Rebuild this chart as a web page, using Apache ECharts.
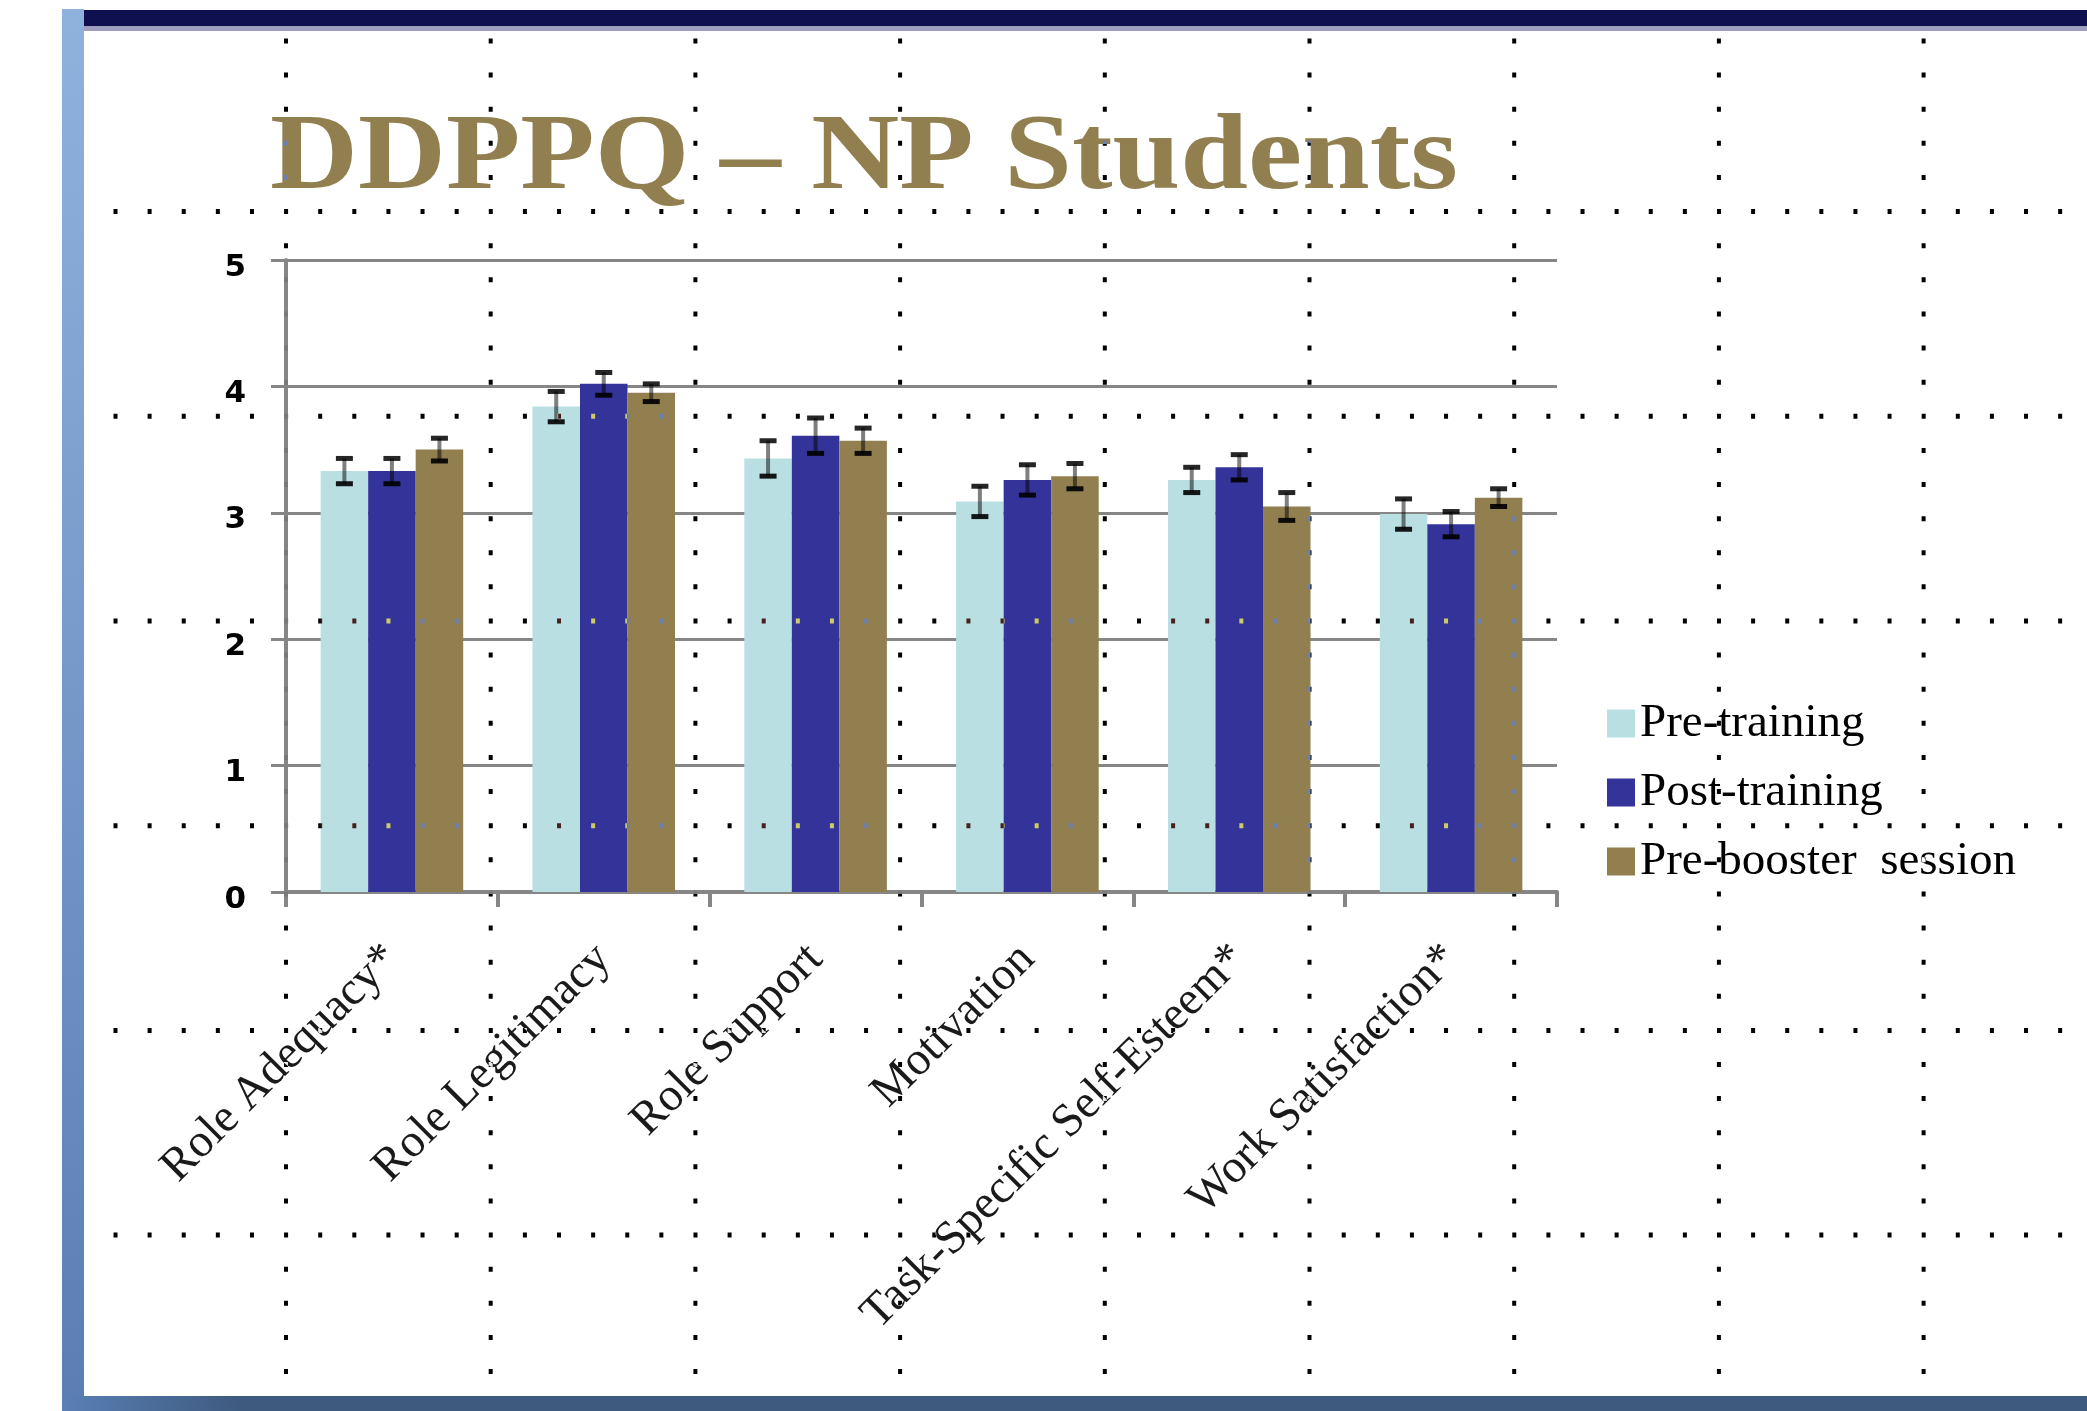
<!DOCTYPE html>
<html>
<head>
<meta charset="utf-8">
<script src="https://cdn.jsdelivr.net/npm/echarts@6/dist/echarts.min.js"></script>
<style>
html,body{margin:0;padding:0;background:#fff;}
#c{width:2087px;height:1411px;}
</style>
</head>
<body>
<div id="c"></div>
<script>
// ---- data ----
const titleText = 'DDPPQ – NP Students';
const categories = ['Role Adequacy*', 'Role Legitimacy', 'Role Support', 'Motivation', 'Task-Specific Self-Esteem*', 'Work Satisfaction*'];
const seriesNames = ['Pre-training', 'Post-training', 'Pre-booster  session'];
const preTraining = [3.33, 3.84, 3.43, 3.09, 3.26, 2.99];
const preTrainingErr = [0.10, 0.12, 0.14, 0.12, 0.10, 0.12];
const postTraining = [3.33, 4.02, 3.61, 3.26, 3.36, 2.91];
const postTrainingErr = [0.10, 0.09, 0.14, 0.12, 0.10, 0.10];
const preBooster = [3.50, 3.95, 3.57, 3.29, 3.05, 3.12];
const preBoosterErr = [0.09, 0.07, 0.10, 0.10, 0.11, 0.07];
const yMin = 0, yMax = 5, yStep = 1;

// ---- styling ----
const colors = ['#B9DFE3', '#333399', '#927F50'];
const catGap = 0.327;
const values = [preTraining, postTraining, preBooster];
const errors = [preTrainingErr, postTrainingErr, preBoosterErr];

const chart = echarts.init(document.getElementById('c'), null, {renderer: 'canvas'});

// decoration: slide frame + dotted guide grid
const graphic = [];
graphic.push({type: 'rect', z: 1, shape: {x: 62, y: 9, width: 22, height: 1402},
  style: {fill: {type: 'linear', x: 0, y: 0, x2: 0, y2: 1, colorStops: [{offset: 0, color: '#8FB2DD'}, {offset: 1, color: '#5A7EB4'}]}}});
graphic.push({type: 'rect', z: 1, shape: {x: 84, y: 10, width: 2003, height: 16}, style: {fill: '#0F104F'}});
graphic.push({type: 'rect', z: 1, shape: {x: 84, y: 26, width: 2003, height: 5}, style: {fill: '#A09EBE'}});
graphic.push({type: 'rect', z: 1, shape: {x: 62, y: 1396, width: 2025, height: 15},
  style: {fill: {type: 'linear', x: 62, y: 0, x2: 240, y2: 0, global: true, colorStops: [{offset: 0, color: '#5A80B5'}, {offset: 1, color: '#3E5A7F'}]}}});

const step = 204.7 / 6;
for (let k = 0; k < 9; k++) {
  const x = 286 + k * 204.7;
  graphic.push({type: 'line', z: 100, silent: true,
    shape: {x1: x, y1: 38.5, x2: x, y2: 1375},
    style: {stroke: '#fff', lineWidth: 4, blend: 'difference',
      lineDash: [5, step - 5, 5, step - 5, 5, step - 5, 5, step - 5, 5, 2 * step - 5]}});
}
for (let m = 0; m < 6; m++) {
  const y = 211.6 + m * 204.7;
  graphic.push({type: 'line', z: 100, silent: true,
    shape: {x1: 113.5, y1: y, x2: 2087, y2: y},
    style: {stroke: '#fff', lineWidth: 5, blend: 'difference', lineDash: [4, step - 4]}});
}
graphic.push({type: 'text', z: 50, x: 270, y: 160, scaleX: 1.128,
  style: {text: titleText, fontSize: 108, fontFamily: 'Liberation Serif', fontWeight: 'bold',
    fill: '#927F50', align: 'left', verticalAlign: 'middle'}});

const series = [];
seriesNames.forEach((name, s) => {
  series.push({
    name: name, type: 'bar', data: values[s],
    barGap: '0%', barCategoryGap: (catGap * 100) + '%',
    itemStyle: {color: colors[s]}, z: 2
  });
});
seriesNames.forEach((name, s) => {
  series.push({
    type: 'custom', z: 5, silent: true,
    data: values[s].map((v, i) => [i, v, errors[s][i]]),
    encode: {x: 0, y: 1},
    renderItem: function (params, api) {
      const i = api.value(0), v = api.value(1), e = api.value(2);
      const c = api.coord([i, v]);
      const band = api.size([1, 0])[0];
      const bw = band * (1 - catGap) / 3;
      const x = c[0] + (s - 1) * bw;
      const yt = api.coord([i, v + e])[1];
      const yb = api.coord([i, v - e])[1];
      const hw = 8.5;
      return {type: 'group', children: [
        {type: 'line', shape: {x1: x, y1: yt, x2: x, y2: yb}, style: {stroke: 'rgba(0,0,0,0.5)', lineWidth: 4}},
        {type: 'line', shape: {x1: x - hw, y1: yt, x2: x + hw, y2: yt}, style: {stroke: 'rgba(0,0,0,0.85)', lineWidth: 5}},
        {type: 'line', shape: {x1: x - hw, y1: yb, x2: x + hw, y2: yb}, style: {stroke: 'rgba(0,0,0,0.9)', lineWidth: 5}}
      ]};
    }
  });
});

chart.setOption({
  backgroundColor: '#ffffff',
  animation: false,
  graphic: graphic,
  legend: {
    data: seriesNames,
    orient: 'vertical',
    left: 1602, top: 695,
    itemWidth: 28, itemHeight: 28, itemGap: 22,
    icon: 'rect',
    textStyle: {fontFamily: 'Liberation Serif', fontSize: 47, lineHeight: 46, color: '#000'}
  },
  grid: {left: 286, right: 530, top: 260, bottom: 519, containLabel: false},
  xAxis: {
    type: 'category', data: categories,
    axisLine: {show: true, lineStyle: {color: '#868686', width: 4}},
    axisTick: {show: true, length: 15, alignWithLabel: false, lineStyle: {color: '#868686', width: 4}},
    axisLabel: {interval: 0, rotate: 45, margin: 60, fontFamily: 'Liberation Serif', fontSize: 47, color: '#1a1a1a'},
    splitLine: {show: false}
  },
  yAxis: {
    type: 'value', min: yMin, max: yMax, interval: yStep,
    axisLine: {show: true, lineStyle: {color: '#868686', width: 4}},
    axisTick: {show: true, length: 15, lineStyle: {color: '#868686', width: 3}},
    axisLabel: {margin: 40, fontFamily: 'DejaVu Sans', fontWeight: 'bold', fontSize: 31, color: '#000',
      verticalAlign: 'top', lineHeight: 15},
    splitLine: {show: true, lineStyle: {color: '#868686', width: 3}}
  },
  series: series
});
</script>
</body>
</html>
